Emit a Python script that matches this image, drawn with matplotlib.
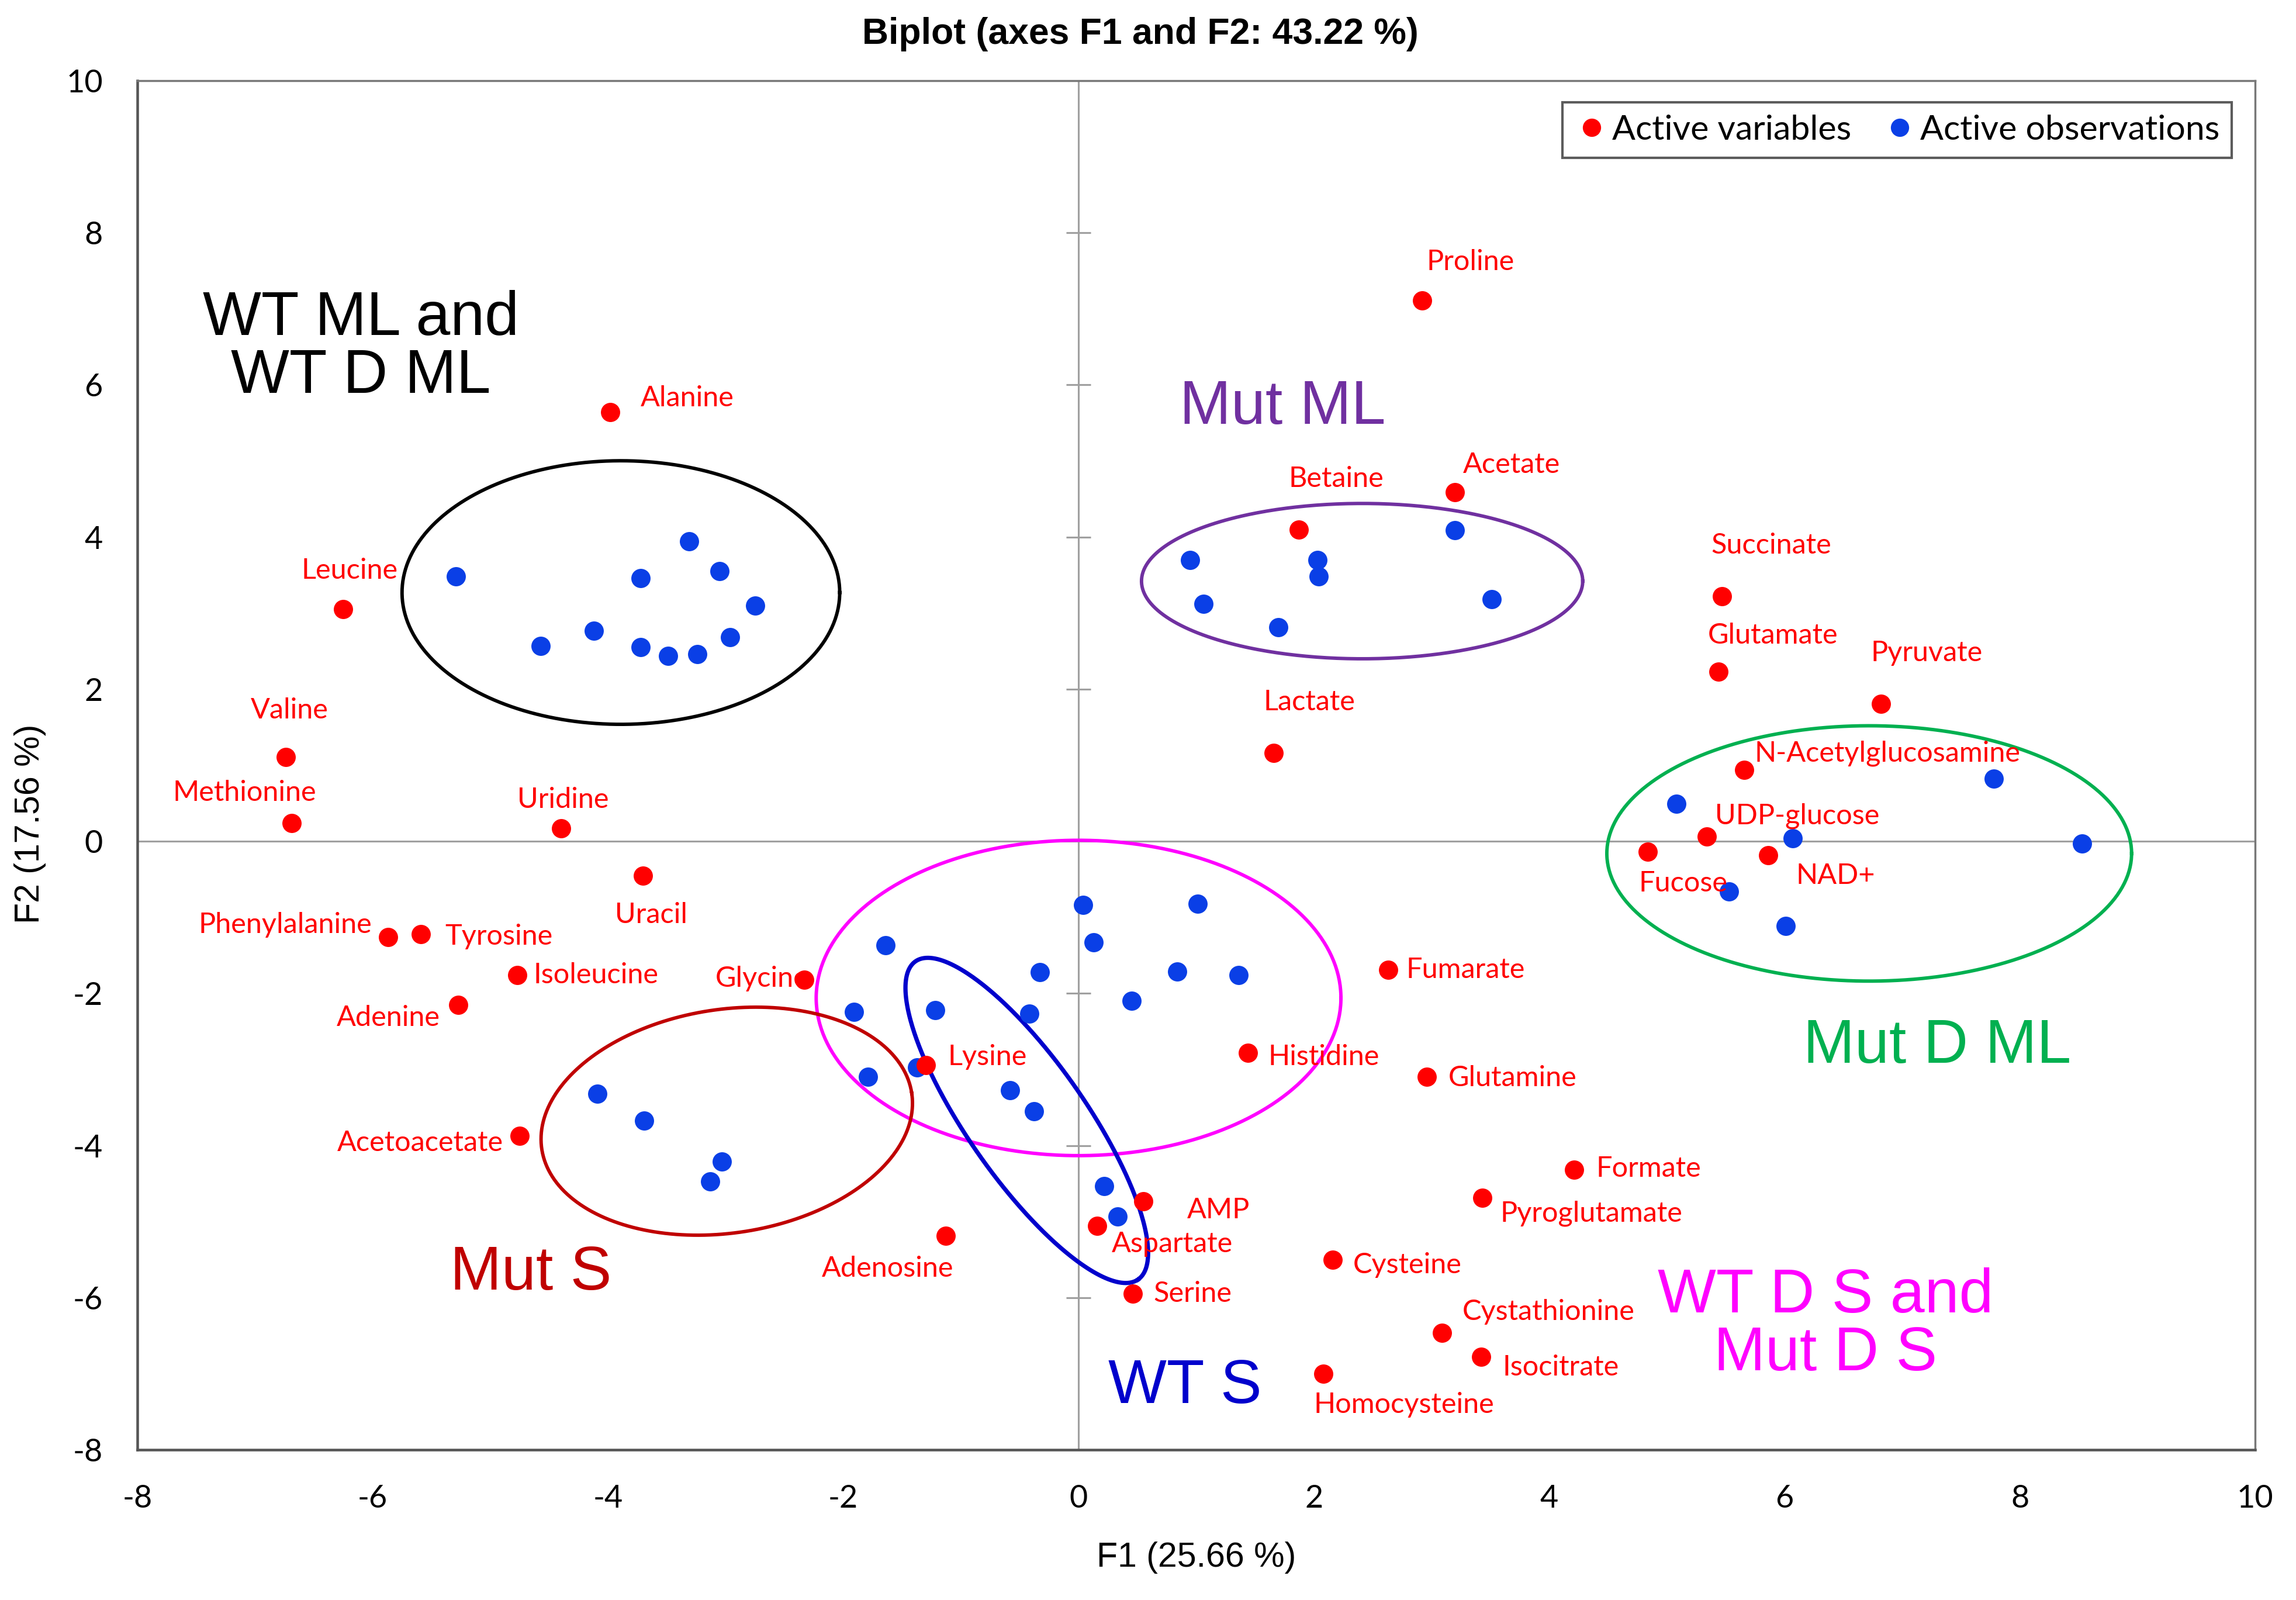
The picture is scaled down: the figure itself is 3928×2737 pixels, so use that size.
import numpy as np
import matplotlib.pyplot as plt
from matplotlib.lines import Line2D

plt.rcParams["axes.unicode_minus"] = False

# active variables (red)
var_names = ["Alanine", "Leucine", "Valine", "Methionine", "Uridine", "Uracil",
             "Phenylalanine", "Tyrosine", "Isoleucine", "Glycine", "Adenine",
             "Acetoacetate", "Lysine", "Adenosine", "Aspartate", "AMP", "Serine",
             "Histidine", "Cysteine", "Fumarate", "Glutamine", "Formate",
             "Pyroglutamate", "Cystathionine", "Isocitrate", "Homocysteine",
             "UDP-glucose", "Fucose", "NAD+", "Proline", "Acetate", "Betaine",
             "Succinate", "Glutamate", "Pyruvate", "Lactate", "N-Acetylglucosamine"]
var_f1 = [-3.98, -6.25, -6.74, -6.69, -4.40, -3.70, -5.87, -5.59, -4.77, -2.33,
          -5.27, -4.75, -1.30, -1.13, 0.16, 0.55, 0.46, 1.44, 2.16, 2.63, 2.96,
          4.21, 3.43, 3.09, 3.42, 2.08, 5.34, 4.84, 5.86, 2.92, 3.20, 1.87,
          5.47, 5.44, 6.82, 1.66, 5.66]
var_f2 = [5.64, 3.05, 1.11, 0.24, 0.17, -0.45, -1.26, -1.22, -1.76, -1.82,
          -2.15, -3.87, -2.94, -5.19, -5.06, -4.73, -5.95, -2.78, -5.50, -1.69,
          -3.10, -4.32, -4.69, -6.46, -6.78, -7.00, 0.06, -0.14, -0.18, 7.11,
          4.59, 4.10, 3.22, 2.23, 1.81, 1.16, 0.94]

# active observations (blue)
obs_f1 = [-5.29, -3.31, -3.72, -3.05, -2.75, -4.12, -4.57, -3.72, -3.49, -3.24, -2.96,
          0.95, 2.03, 2.04, 3.20, 1.06, 1.70, 3.51,
          7.78, 5.08, 6.07, 8.53, 5.53, 6.01,
          0.04, 1.01, 0.13, -1.64, -0.33, 0.84, 1.36, 0.45, -1.91, -1.22, -0.42,
          -1.37, -0.58, -0.38, -1.79, 0.22, 0.33,
          -4.09, -3.69, -3.03, -3.13]
obs_f2 = [3.48, 3.94, 3.46, 3.55, 3.10, 2.77, 2.57, 2.55, 2.44, 2.46, 2.68,
          3.70, 3.70, 3.48, 4.09, 3.12, 2.81, 3.18,
          0.82, 0.49, 0.04, -0.03, -0.66, -1.11,
          -0.84, -0.82, -1.33, -1.37, -1.72, -1.71, -1.76, -2.10, -2.24, -2.22, -2.27,
          -2.97, -3.27, -3.55, -3.10, -4.53, -4.93,
          -3.32, -3.67, -4.21, -4.47]

# group ellipses: centre, semi-axes (x units), screen angle
groups = ["WT ML and\nWT D ML", "Mut ML", "Mut D ML", "WT D S and\nMut D S", "Mut S", "WT S"]
group_colors = ["black", "#7030A0", "#00B050", "#FF00FF", "#C00000", "#0000CC"]
ell_cx = [-3.89, 2.41, 6.72, 0.0, -2.99, -0.44]
ell_cy = [3.27, 3.42, -0.16, -2.06, -3.68, -3.67]
ell_a = [1.86, 1.875, 2.23, 2.23, 1.59, 1.65]
ell_b = [1.12, 0.66, 1.085, 1.34, 0.95, 0.50]
ell_ang = [0, 0, 0, 0, 8.6, -55]

# label offsets in points: (dx, dy, ha)
label_pos = {
    "Alanine": (15, 7, "left"), "Leucine": (3, 19, "center"), "Valine": (2, 23, "center"),
    "Methionine": (-23, 15, "center"), "Uridine": (1, 14, "center"), "Uracil": (4, -19.5, "center"),
    "Phenylalanine": (-8, 6, "right"), "Tyrosine": (12, -1.3, "left"), "Isoleucine": (8, 0, "left"),
    "Glycine": (2, 0.5, "right"), "Adenine": (-9, -6.4, "right"), "Acetoacetate": (-8, -3.6, "right"),
    "Lysine": (10.8, 4, "left"), "Adenosine": (4, -16, "right"), "Aspartate": (7, -8.8, "left"),
    "AMP": (21.7, -4.6, "left"), "Serine": (10.3, 0, "left"), "Histidine": (10, -2, "left"),
    "Cysteine": (10, -2.8, "left"), "Fumarate": (9, 0, "left"), "Glutamine": (10.5, -0.5, "left"),
    "Formate": (10.8, 0.5, "left"), "Pyroglutamate": (9, -7.7, "left"),
    "Cystathionine": (10, 10.3, "left"), "Isocitrate": (10.5, -5.1, "left"),
    "Homocysteine": (-4.7, -15.4, "left"), "UDP-glucose": (4, 10.3, "left"),
    "Fucose": (-4.7, -15.4, "left"), "NAD+": (13.7, -10.3, "left"), "Proline": (2.2, 19, "left"),
    "Acetate": (4, 13.6, "left"), "Betaine": (-5, 25, "left"), "Succinate": (-5.4, 25, "left"),
    "Glutamate": (-5.4, 17.7, "left"), "Pyruvate": (-5, 25, "left"), "Lactate": (-5, 25, "left"),
    "N-Acetylglucosamine": (5, 8.2, "left"),
}
# group label anchors (data coords) and alignment
group_text_x = [-6.10, 0.86, 6.16, 6.35, -5.34, 0.25]
group_text_y = [6.49, 5.70, -2.70, -6.36, -5.68, -7.17]
group_text_ha = ["center", "left", "left", "center", "left", "left"]

RED = "#FF0000"
BLUE = "#0A3FE6"
label_font = "Lato"

fig = plt.figure(figsize=(15.712, 10.948), dpi=250)
ax = fig.add_axes([0.0598, 0.0939, 0.9224, 0.8557])
ax.set_xlim(-8, 10)
ax.set_ylim(-8, 10)
ax.set_xticks(np.arange(-8, 11, 2))
ax.set_yticks(np.arange(-8, 11, 2))
ax.tick_params(length=0, labelsize=15.5, pad=17)
for lab in ax.get_xticklabels() + ax.get_yticklabels():
    lab.set_fontfamily(label_font)
for side in ["left", "bottom"]:
    ax.spines[side].set_color("#555555")
    ax.spines[side].set_linewidth(1.3)
for side in ["top", "right"]:
    ax.spines[side].set_color("#777777")
    ax.spines[side].set_linewidth(1.0)

ax.axhline(0, color="#A0A0A0", lw=0.9, zorder=1)
ax.axvline(0, color="#A0A0A0", lw=0.9, zorder=1)
yt = [t for t in range(-6, 10, 2) if t != 0]
ax.plot([0] * len(yt), yt, ls="none", marker="_", ms=12, mew=0.9, color="#A0A0A0", zorder=1)

ax.scatter(obs_f1, obs_f2, s=90, color=BLUE, zorder=3, linewidths=0)
ax.scatter(var_f1, var_f2, s=90, color=RED, zorder=3, linewidths=0)

for name, x, y in zip(var_names, var_f1, var_f2):
    dx, dy, ha = label_pos[name]
    ax.annotate(name, (x, y), xytext=(dx, dy), textcoords="offset points",
                ha=ha, va="center", color=RED, fontsize=14, family=label_font, zorder=4)

# ellipses drawn in screen-proportional units
fig.canvas.draw()
bb = ax.get_window_extent()
k = bb.height / bb.width
t = np.linspace(0, 2 * np.pi, 400)
for cx, cy, a, b, ang, col in zip(ell_cx, ell_cy, ell_a, ell_b, ell_ang, group_colors):
    th = np.deg2rad(ang)
    u, v = a * np.cos(t), b * np.sin(t)
    ex = cx + u * np.cos(th) - v * np.sin(th)
    ey = cy + (u * np.sin(th) + v * np.cos(th)) / k
    ax.plot(ex, ey, color=col, lw=1.7 if col != "#0000CC" else 2.1, zorder=2)

for g, x, y, ha, col in zip(groups, group_text_x, group_text_y, group_text_ha, group_colors):
    ax.text(x, y, g, ha=ha, va="center", color=col, fontsize=30.5,
            family="Liberation Sans", linespacing=1.0, zorder=4)

handles = [Line2D([], [], ls="none", marker="o", ms=9, color=RED, mew=0),
           Line2D([], [], ls="none", marker="o", ms=9, color=BLUE, mew=0)]
leg = ax.legend(handles, ["Active variables", "Active observations"], loc="upper right",
                ncol=2, frameon=True, fancybox=False, edgecolor="#333333",
                prop={"family": label_font, "size": 17}, handletextpad=0.1,
                columnspacing=0.9, handlelength=1.0, borderpad=0.35,
                borderaxespad=0, bbox_to_anchor=(0.989, 0.984))
leg.get_frame().set_linewidth(1.2)

ax.set_title("Biplot (axes F1 and F2: 43.22 %)", fontsize=18, fontweight="bold",
             family="Liberation Sans", pad=18, x=0.4737)
ax.set_xlabel("F1 (25.66 %)", fontsize=17, family="Liberation Sans", labelpad=14)
ax.set_ylabel("F2 (17.56 %)", fontsize=17, family="Liberation Sans", labelpad=3)
ax.yaxis.set_label_coords(-0.043, 0.457)

fig.savefig("out.png", dpi=250)
